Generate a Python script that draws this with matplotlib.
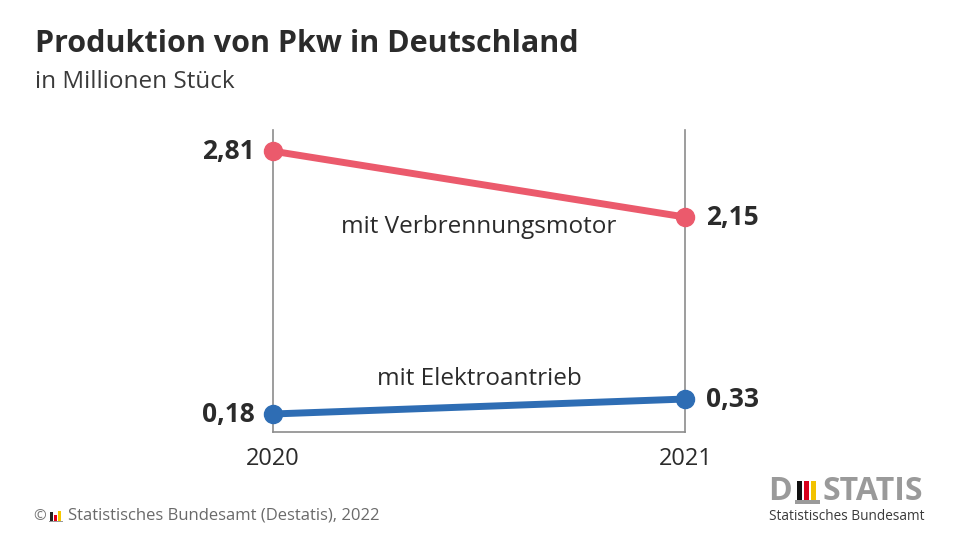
import matplotlib
matplotlib.use("Agg")
import matplotlib.pyplot as plt
from matplotlib.patches import Rectangle

# data
years = ["2020", "2021"]
verbrenner = [2.81, 2.15]
elektro = [0.18, 0.33]
verbrenner_labels = ["2,81", "2,15"]
elektro_labels = ["0,18", "0,33"]
series_names = ["mit Verbrennungsmotor", "mit Elektroantrieb"]

RED = "#EB5A6C"
BLUE = "#2E6DB4"
DARK = "#2B2B2B"
GREY = "#8C8C8C"

plt.rcParams["font.family"] = ["Open Sans", "DejaVu Sans"]

fig = plt.figure(figsize=(9.6, 5.4), dpi=100)
ax = fig.add_axes([0.284, 0.2, 0.43, 0.559])

x = list(range(len(years)))
ax.plot(x, verbrenner, color=RED, lw=5, marker="o", ms=13, solid_capstyle="round", zorder=3, clip_on=False)
ax.plot(x, elektro, color=BLUE, lw=5, marker="o", ms=13, solid_capstyle="round", zorder=3, clip_on=False)

ax.set_xlim(0, 1)
ax.set_ylim(0, 3.02)
ax.set_yticks([])
ax.set_xticks(x)
ax.set_xticklabels(years, fontsize=17, color=DARK)
ax.tick_params(axis="x", length=0, pad=11)
for side in ["left", "right", "bottom"]:
    ax.spines[side].set_color(GREY)
    ax.spines[side].set_linewidth(1.2)
ax.spines["top"].set_visible(False)

# value labels
lbl = dict(fontsize=19, fontweight="bold", color=DARK, va="center")
ax.annotate(verbrenner_labels[0], (x[0], verbrenner[0]), xytext=(-13, 0),
            textcoords="offset points", ha="right", **lbl)
ax.annotate(elektro_labels[0], (x[0], elektro[0]), xytext=(-13, 0),
            textcoords="offset points", ha="right", **lbl)
ax.annotate(verbrenner_labels[1], (x[1], verbrenner[1]), xytext=(15, 0),
            textcoords="offset points", ha="left", **lbl)
ax.annotate(elektro_labels[1], (x[1], elektro[1]), xytext=(15, 0),
            textcoords="offset points", ha="left", **lbl)

# series names
ax.text(0.5, 2.05, series_names[0], ha="center", va="center", fontsize=17.5, color=DARK)
ax.text(0.5, 0.53, series_names[1], ha="center", va="center", fontsize=17.5, color=DARK)

# title
fig.text(35 / 960, 1 - 44 / 540, "Produktion von Pkw in Deutschland", fontsize=22,
         fontweight="bold", color=DARK, va="center", ha="left")
fig.text(35 / 960, 1 - 82 / 540, "in Millionen Stück", fontsize=17.5, color="#3A3A3A",
         va="center", ha="left")

# footer
fig.text(33 / 960, 1 - 516 / 540, "©", fontsize=11, color="#777777", va="center", ha="left")
for i, c in enumerate(["#222222", "#E3001B", "#F6C800"]):
    h = [9, 6, 10][i]
    fig.add_artist(Rectangle(((50 + i * 4) / 960, (540 - 521) / 540), 3 / 960, h / 540,
                             transform=fig.transFigure, color=c, lw=0))
fig.add_artist(Rectangle((49 / 960, (540 - 522) / 540), 14 / 960, 1.5 / 540,
                         transform=fig.transFigure, color="#999999", lw=0))
fig.text(68 / 960, 1 - 516 / 540, "Statistisches Bundesamt (Destatis), 2022", fontsize=12,
         color="#6A6A6A", va="center", ha="left")

# Destatis logo
fig.text(768 / 960, 1 - 492 / 540, "D", fontsize=23, fontweight="bold", color="#9A9A9A",
         va="center", ha="left")
for i, c in enumerate(["#111111", "#D9001B", "#F2C200"]):
    fig.add_artist(Rectangle(((797 + i * 7) / 960, (540 - 502) / 540), 5 / 960, 21 / 540,
                             transform=fig.transFigure, color=c, lw=0))
fig.add_artist(Rectangle((795 / 960, (540 - 504) / 540), 25 / 960, 4 / 540,
                         transform=fig.transFigure, color="#9A9A9A", lw=0))
fig.text(822 / 960, 1 - 492 / 540, "STATIS", fontsize=23, fontweight="bold", color="#9A9A9A",
         va="center", ha="left")
fig.text(769 / 960, 1 - 516 / 540, "Statistisches Bundesamt", fontsize=9.8, color="#3A3A3A",
         va="center", ha="left")

fig.savefig("out.png", dpi=100, facecolor="white")
